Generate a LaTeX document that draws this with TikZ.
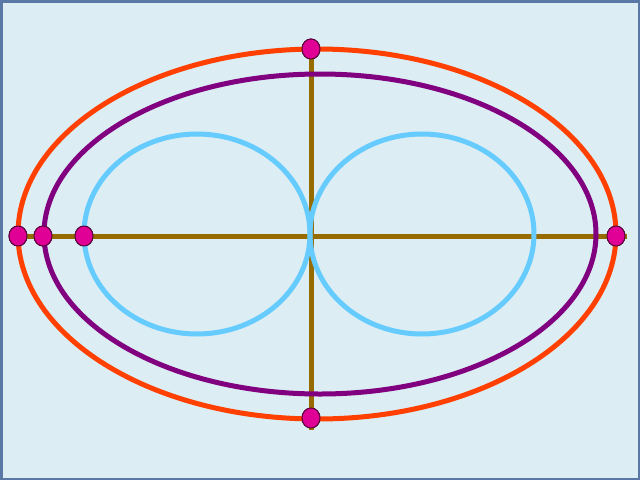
\documentclass[tikz,border=0pt]{standalone}
\definecolor{bgc}{RGB}{220,237,243}
\definecolor{framec}{RGB}{90,120,165}
\definecolor{redc}{RGB}{255,64,0}
\definecolor{purc}{RGB}{128,0,128}
\definecolor{bluec}{RGB}{102,204,255}
\definecolor{brownc}{RGB}{150,108,0}
\definecolor{dotc}{RGB}{224,0,150}
\definecolor{dotline}{RGB}{90,0,60}
\tikzset{
  curve/.style={line width=5pt},
  axis/.style={draw=brownc,line width=5pt},
  dot/.style={ellipse,draw=dotline,fill=dotc,line width=1pt,minimum width=18pt,minimum height=20pt,inner sep=0pt}
}
\usetikzlibrary{shapes.geometric}
\begin{document}
\begin{tikzpicture}[x=1pt,y=-1pt]
\useasboundingbox (0,0) rectangle (640,480);
\fill[bgc] (0,0) rectangle (640,480);
\draw[framec,line width=2.5pt] (1.25,1.25) rectangle (638.75,478.75);
% dots
\node[dot] (t) at (311,49) {};
\node[dot] (b) at (311,418) {};
\node[dot] (l1) at (18,236) {};
\node[dot] (l2) at (43,236) {};
\node[dot] (l3) at (84,236) {};
\node[dot] (r) at (616,236) {};
\coordinate (hl) at (10,236);
\coordinate (hr) at (627,236);
\coordinate (vb) at (311,430);
% axes
\draw[axis] (hl) -- (hr);
\draw[axis] (t.center) -- (vb);
% ellipses
\draw[curve,redc] (317,234) ellipse [x radius=299, y radius=185];
\draw[curve,purc] (320,234) ellipse [x radius=276, y radius=160];
\draw[curve,bluec] (197,234) ellipse [x radius=113, y radius=100];
\draw[curve,bluec] (422,234) ellipse [x radius=112, y radius=100];
% redraw dots on top
\node[dot] at (t) {};
\node[dot] at (b) {};
\node[dot] at (l1) {};
\node[dot] at (l2) {};
\node[dot] at (l3) {};
\node[dot] at (r) {};
\end{tikzpicture}
\end{document}
